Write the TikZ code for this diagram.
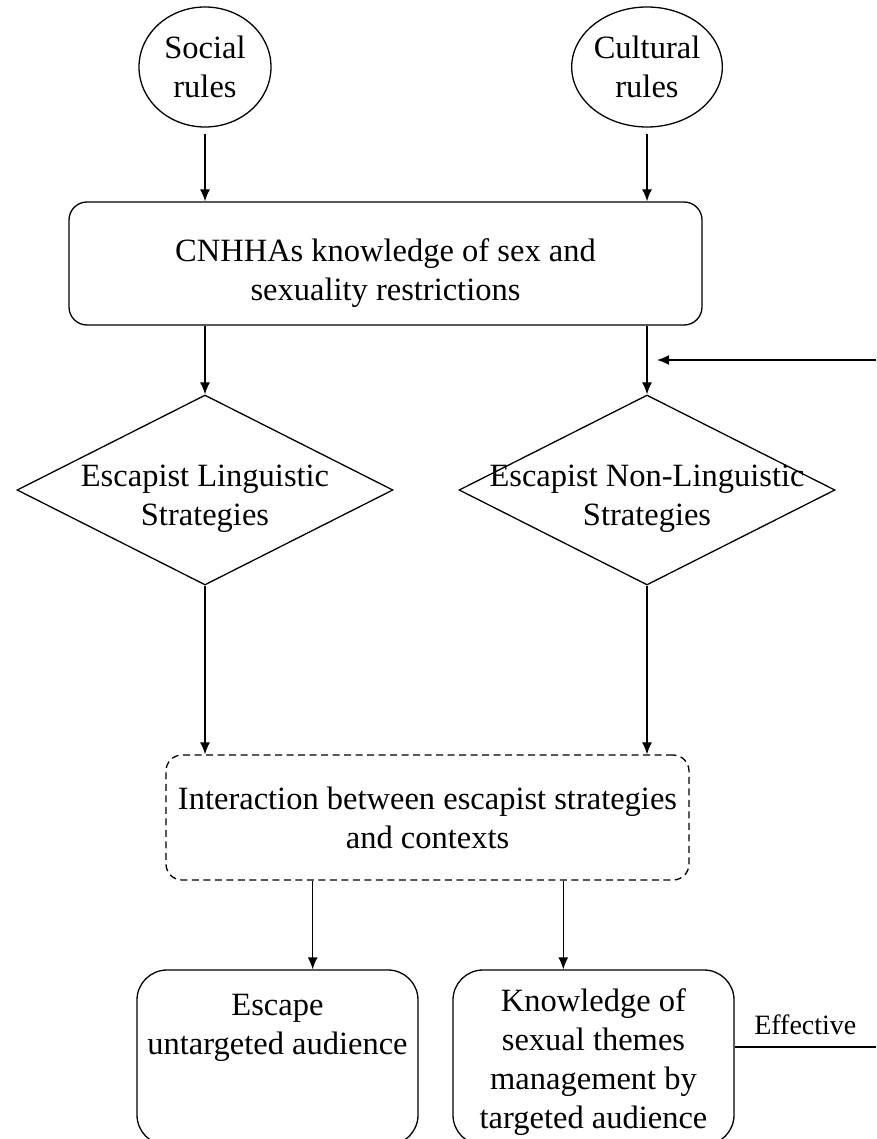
\documentclass[tikz,border=0pt]{standalone}
\usepackage{fontspec}
\setmainfont{Liberation Serif}
\usepackage{tikz}
\usetikzlibrary{positioning,calc,shapes.geometric,arrows.meta}
\newcommand{\boxfont}{\fontsize{32.5}{39}\selectfont}
\newcommand{\zw}[1]{\makebox[0pt]{#1}}
\newcommand{\topgap}[1]{\rule{0pt}{#1}}

\begin{document}
\begin{tikzpicture}[
        x=1pt, y=-1pt,
        every node/.style={font=\boxfont},
        rulenode/.style={draw, ellipse, minimum width=132pt, minimum height=120pt, inner sep=0pt, align=center},
        knowbox/.style={draw, rounded corners=18pt, minimum width=633pt, minimum height=123pt, inner sep=0pt, align=center},
        choice/.style={draw, diamond, aspect=2, minimum width=376pt, minimum height=190pt, inner sep=0pt, align=center},
        mixbox/.style={draw, dash pattern=on 7pt off 4.5pt, rounded corners=16pt, minimum width=523pt, minimum height=125pt, inner sep=0pt, align=center},
        outcome/.style={draw, rounded corners=30pt, minimum width=281pt, minimum height=175pt, inner sep=0pt, align=center},
        arr/.style={-{Latex[length=12pt, width=10pt]}},
        line width=1.3pt,
    ]
    \clip (0,0) rectangle (876,1139);

    % === Row 1: Rules ===
    \node[rulenode] (social) at (205,67) {Social\\rules};
    \node[rulenode] (cultural) at (647,67) {Cultural\\rules};

    % === Knowledge box ===
    \node[knowbox] (know) at (385.5,263.5) {\topgap{42pt}CNHHAs knowledge of sex and\\sexuality restrictions};

    \draw[arr, shorten <=6pt] (social.south) -- (social.south |- know.north);
    \draw[arr, shorten <=6pt] (cultural.south) -- (cultural.south |- know.north);

    % === Row 2: Strategies ===
    \node[choice] (ling) at (205,490) {\topgap{40pt}\zw{Escapist Linguistic}\\\zw{Strategies}};
    \node[choice] (nonling) at (647,490) {\topgap{40pt}\zw{Escapist Non-Linguistic}\\\zw{Strategies}};

    \draw[arr] (know.south -| ling.north) -- (ling.north);
    \draw[arr] (know.south -| nonling.north) -- (nonling.north);

    \coordinate (feed) at (876,360);
    \draw[arr, shorten >=10pt] (feed) -- (feed -| nonling.north);

    % === Row 3: Interaction ===
    \node[mixbox] (inter) at (427.5,817.5) {Interaction between escapist strategies\\and contexts};

    \draw[arr] (ling.south) -- (ling.south |- inter.north);
    \draw[arr] (nonling.south) -- (nonling.south |- inter.north);

    % === Row 4: Outcomes ===
    \node[outcome] (escape) at (277.5,1057.5) {\topgap{32pt}Escape\\untargeted audience\\~\\~};
    \node[outcome] (manage) at (593.5,1057.5) {\topgap{32pt}Knowledge of\\sexual themes\\management by\\targeted audience};

    \coordinate (outl) at ($(inter.south west)!0.281!(inter.south east)$);
    \coordinate (outr) at ($(inter.south west)!0.759!(inter.south east)$);
    \draw[arr] (outl) -- (outl |- escape.north);
    \draw[arr] (outr) -- (outr |- manage.north);

    \coordinate (effend) at (876,1047);
    \draw (manage.east |- effend) -- node[above=8pt, font=\fontsize{28}{32}\selectfont] (eff) {Effective} (effend);

\end{tikzpicture}
\end{document}
